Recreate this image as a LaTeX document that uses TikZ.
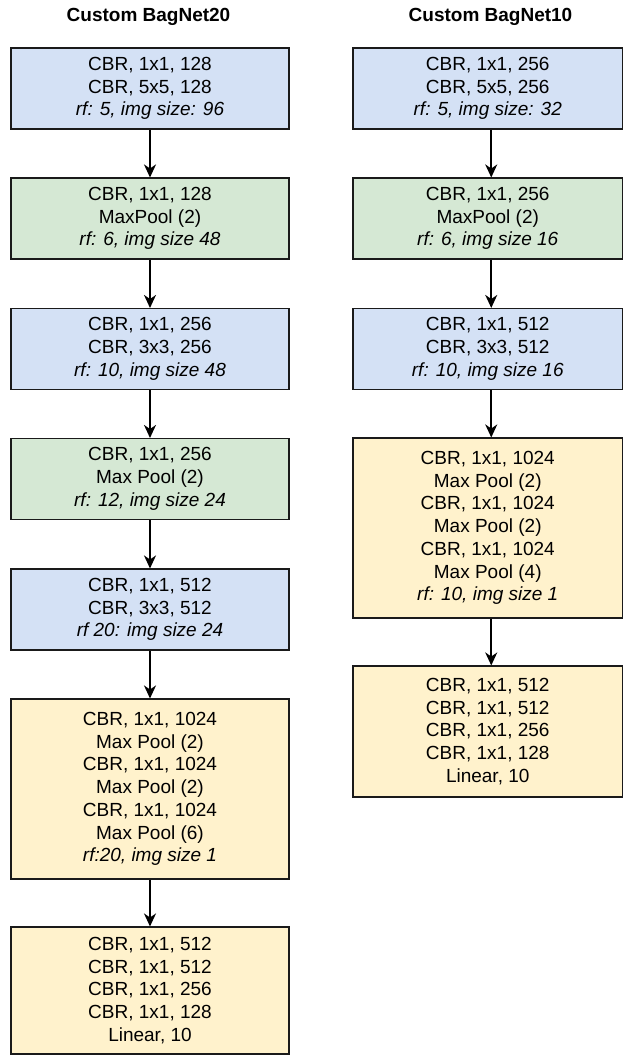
\documentclass[tikz,border=0pt]{standalone}
\usepackage{fontspec}
\setmainfont{Liberation Sans}
\usetikzlibrary{arrows.meta}
\definecolor{cblue}{HTML}{D4E1F5}
\definecolor{cgreen}{HTML}{D5E8D4}
\definecolor{cyellow}{HTML}{FFF2CC}
\definecolor{cline}{HTML}{1A1A1A}
\tikzset{
  blk/.style={draw=cline, line width=1.1pt, rectangle, align=center, inner sep=0pt,
    font=\fontsize{19}{22.7}\selectfont},
  lbox/.style={blk, minimum width=278pt},
  rbox/.style={blk, minimum width=269.5pt},
  bluebox/.style={fill=cblue},
  greenbox/.style={fill=cgreen},
  yellowbox/.style={fill=cyellow},
  ttl/.style={font=\fontsize{19}{22.7}\selectfont\bfseries},
  conn/.style={line width=1.6pt, -{Stealth[length=13pt,width=12pt,inset=4pt]}},
}
\begin{document}
\begin{tikzpicture}[x=1pt,y=-1pt]
\useasboundingbox (0,0) rectangle (623,1055);
\node[ttl] (t1) at (148.5,17) {Custom BagNet20};
\node[ttl] (t2) at (490.5,17) {Custom BagNet10};
% left column
\node[lbox,bluebox,minimum height=81pt] (l1) at (150,88.5) {CBR, 1x1, 128\\CBR, 5x5, 128\\\textit{rf: 5, img size: 96}};
\node[lbox,greenbox,minimum height=81pt] (l2) at (150,218.5) {CBR, 1x1, 128\\MaxPool (2)\\\textit{rf: 6, img size 48}};
\node[lbox,bluebox,minimum height=81pt] (l3) at (150,349) {CBR, 1x1, 256\\CBR, 3x3, 256\\\textit{rf: 10, img size 48}};
\node[lbox,greenbox,minimum height=81pt] (l4) at (150,479) {CBR, 1x1, 256\\Max Pool (2)\\\textit{rf: 12, img size 24}};
\node[lbox,bluebox,minimum height=81pt] (l5) at (150,609.5) {CBR, 1x1, 512\\CBR, 3x3, 512\\\textit{rf 20: img size 24}};
\node[lbox,yellowbox,minimum height=180pt] (l6) at (150,789) {CBR, 1x1, 1024\\Max Pool (2)\\CBR, 1x1, 1024\\Max Pool (2)\\CBR, 1x1, 1024\\Max Pool (6)\\\textit{rf:20, img size 1}};
\node[lbox,yellowbox,minimum height=127pt] (l7) at (150,990.5) {CBR, 1x1, 512\\CBR, 1x1, 512\\CBR, 1x1, 256\\CBR, 1x1, 128\\Linear, 10};
% right column
\node[rbox,bluebox,minimum height=81pt] (r1) at (487.75,88.5) {CBR, 1x1, 256\\CBR, 5x5, 256\\\textit{rf: 5, img size: 32}};
\node[rbox,greenbox,minimum height=81pt] (r2) at (487.75,218.5) {CBR, 1x1, 256\\MaxPool (2)\\\textit{rf: 6, img size 16}};
\node[rbox,bluebox,minimum height=81pt] (r3) at (487.75,349) {CBR, 1x1, 512\\CBR, 3x3, 512\\\textit{rf: 10, img size 16}};
\node[rbox,yellowbox,minimum height=180pt] (r4) at (487.75,528) {CBR, 1x1, 1024\\Max Pool (2)\\CBR, 1x1, 1024\\Max Pool (2)\\CBR, 1x1, 1024\\Max Pool (4)\\\textit{rf: 10, img size 1}};
\node[rbox,yellowbox,minimum height=131pt] (r5) at (487.75,731.5) {CBR, 1x1, 512\\CBR, 1x1, 512\\CBR, 1x1, 256\\CBR, 1x1, 128\\Linear, 10};
% connectors
\draw[conn] (l1) -- (l2);
\draw[conn] (l2) -- (l3);
\draw[conn] (l3) -- (l4);
\draw[conn] (l4) -- (l5);
\draw[conn] (l5) -- (l6);
\draw[conn] (l6) -- (l7);
\draw[conn] ([xshift=3.5pt]r1.south) -- ([xshift=3.5pt]r2.north);
\draw[conn] ([xshift=3.5pt]r2.south) -- ([xshift=3.5pt]r3.north);
\draw[conn] ([xshift=3.5pt]r3.south) -- ([xshift=3.5pt]r4.north);
\draw[conn] ([xshift=3.5pt]r4.south) -- ([xshift=3.5pt]r5.north);
\end{tikzpicture}
\end{document}
